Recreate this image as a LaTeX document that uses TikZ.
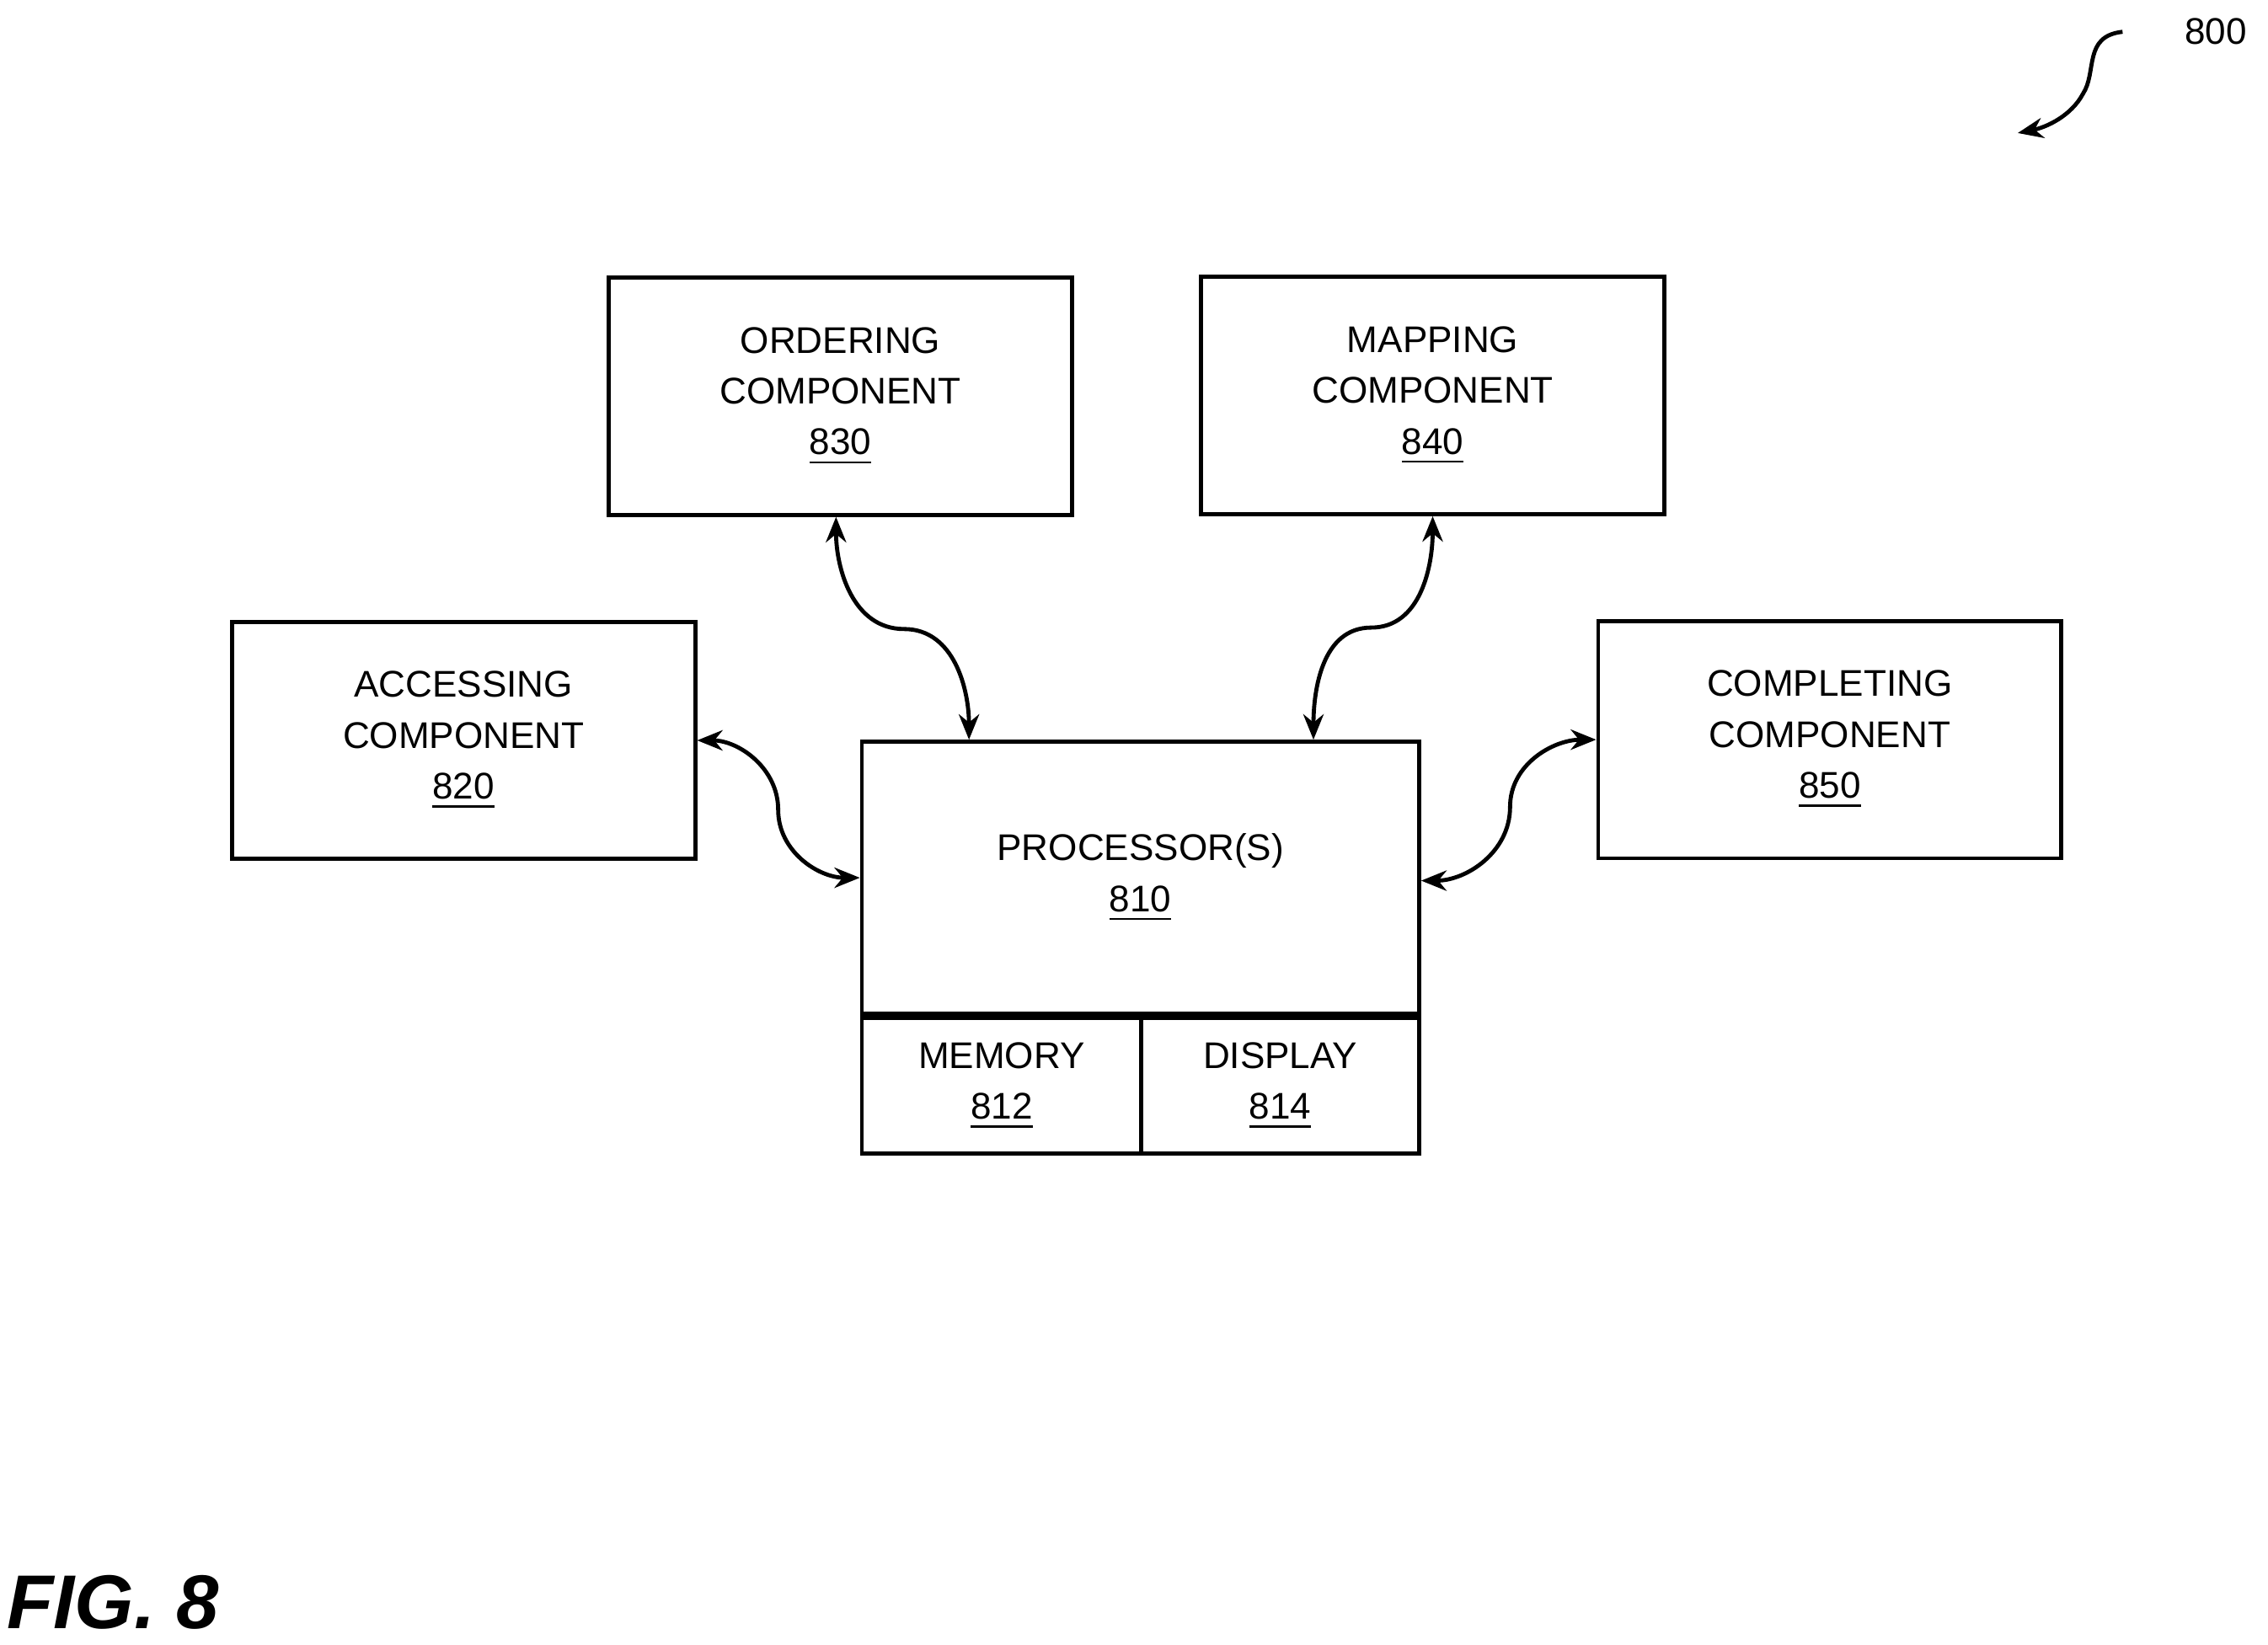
\documentclass[tikz,border=0pt]{standalone}
\usepackage{fontspec}
\setmainfont{Liberation Sans}
\usetikzlibrary{arrows.meta}
\begin{document}
\begin{tikzpicture}[x=0.01cm,y=-0.01cm,line width=0.8pt,font=\fontsize{7.3}{10}\selectfont]
			\useasboundingbox (0,0) rectangle (1568,1137);
			\tikzstyle{comp} = [draw, rectangle, align=center, minimum width=3.2cm, minimum height=1.64cm, inner sep=0pt]
			\tikzstyle{link} = [{Stealth[length=5pt,width=4pt]}-{Stealth[length=5pt,width=4pt]}]
			\node [comp] (ord) at (581,274) {ORDERING\\COMPONENT\\\underline{830}};
			\node [comp] (map) at (990.5,273.5) {MAPPING\\COMPONENT\\\underline{840}};
			\node [comp] (acc) at (320.5,512) {ACCESSING\\COMPONENT\\\underline{820}};
			\node [comp] (cmp) at (1265,511.5) {COMPLETING\\COMPONENT\\\underline{850}};
			\node [draw, rectangle, align=center, minimum width=3.85cm, minimum height=1.88cm, inner sep=0pt] (proc) at (788.5,607) {PROCESSOR(S)\\\underline{810}};
			\node [draw, rectangle, align=center, minimum width=1.93cm, minimum height=0.94cm, inner sep=0pt, anchor=north west] (mem) at (proc.south west) {MEMORY\\\underline{812}};
			\node [draw, rectangle, align=center, minimum width=1.92cm, minimum height=0.94cm, inner sep=0pt, anchor=north east] (disp) at (proc.south east) {DISPLAY\\\underline{814}};

			% curved links
			\coordinate (m1) at (625,435);
			\coordinate (m2) at (948,434);
			\coordinate (m3) at (538,560);
			\coordinate (m4) at (1044,558);
			\draw [link] ([xshift=-0.03cm]ord.south) to[out=-90,in=180] (m1) to[out=0,in=90] ([xshift=-1.185cm]proc.north);
			\draw [link] (map.south) to[out=-90,in=0] (m2) to[out=180,in=90] ([xshift=1.195cm]proc.north);
			\draw [link] (acc.east) to[out=0,in=90] (m3) to[out=-90,in=180] (proc.west);
			\draw [link] (cmp.west) to[out=180,in=90] (m4) to[out=-90,in=0] ([yshift=-0.02cm]proc.east);

			\node (lbl) at (1532,22) {800};
			\coordinate (tip) at (1395,92);
			\draw [-{Stealth[length=5pt,width=4pt]}] ([xshift=-0.3cm]lbl.west) .. controls (1440,25) and (1450,50) .. (1440,65) .. controls (1432,80) and (1415,88) .. (tip);

			\node [font=\fontsize{15}{18}\selectfont\bfseries\itshape] (fig) at (78,1108) {FIG. 8};
		\end{tikzpicture}
\end{document}
